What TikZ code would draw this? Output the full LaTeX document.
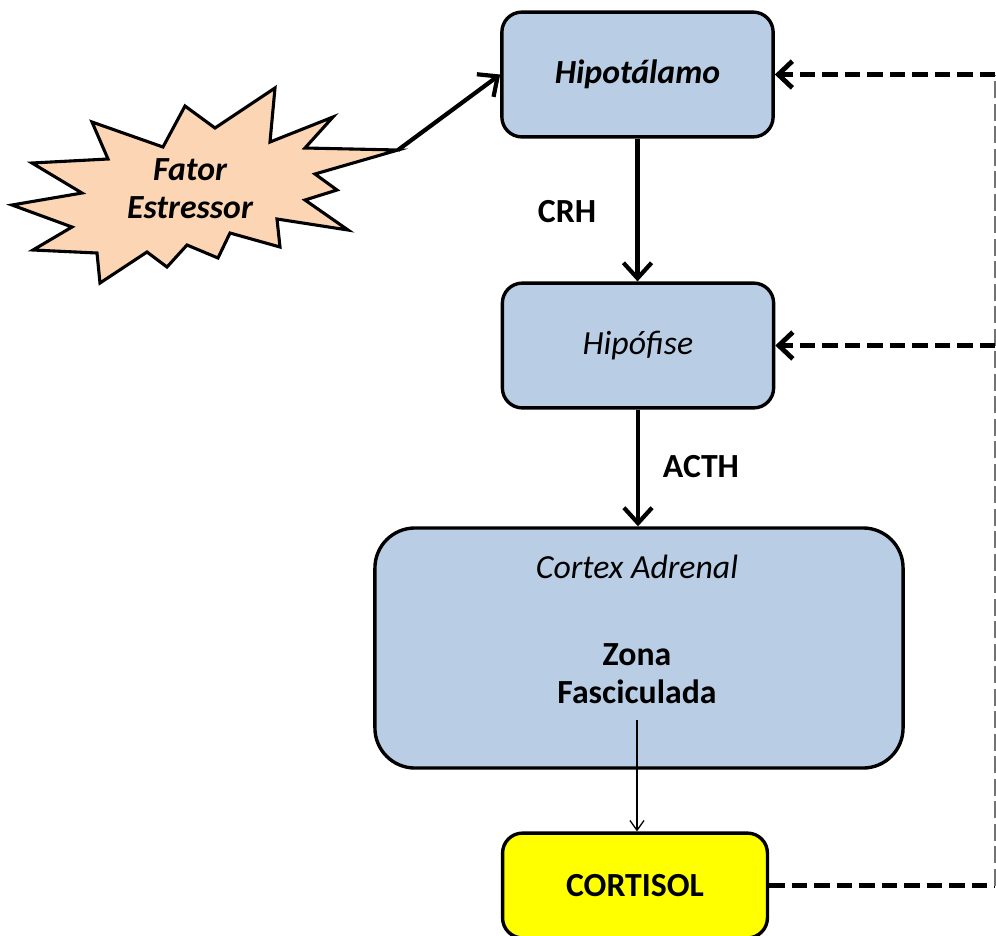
\documentclass[tikz,border=0pt]{standalone}
\usepackage{fontspec}
\setmainfont{Carlito}
\usetikzlibrary{arrows.meta}
\definecolor{glandblue}{HTML}{B9CDE5}
\definecolor{burstpeach}{HTML}{FCD5B5}
\definecolor{cortisolyellow}{HTML}{FFFF00}
\def\bigfont{\fontsize{24}{27}\selectfont}
\tikzset{
	gland/.style={draw, line width=2.4pt, fill=glandblue, rounded corners=0.5cm, minimum width=6.78cm, minimum height=3.12cm, font=\bigfont},
	hormone/.style={line width=3pt, -{Straight Barb[length=11pt,width=20pt]}},
	feedback/.style={line width=3.4pt, dash pattern=on 11pt off 5pt, -{Straight Barb[length=10pt,width=19pt]}},
	feedline/.style={line width=1.2pt, color=black!55, dash pattern=on 12pt off 4pt},
	hormonetext/.style={font=\bigfont\bfseries}
}

\begin{document}
\begin{tikzpicture}[x=0.025cm, y=-0.025cm]
			%%%%% START %%%%%
			\useasboundingbox (0,0) rectangle (996,936);
			
			\draw[line width=2.2pt, fill=burstpeach, line join=miter] (12,205) -- (82,193) -- (32,163) -- (108,159) -- (92,122) -- (163,147) -- (185,106) -- (215,128) -- (275,88) -- (270,142) -- (333,117) -- (305,148) -- (398,150) -- (315,174) -- (337,190) -- (305,200) -- (348,230) -- (277,219) -- (280,247) -- (230,233) -- (218,258) -- (187,245) -- (167,267) -- (147,252) -- (100,283) -- (97,253) -- (33,250) -- (72,227) -- cycle;
			\coordinate (stressTip) at (398,150);
			\node[align=center, font=\bigfont\bfseries\itshape] (fator) at (190,189) {Fator\\Estressor};
			
			\node[gland] (hipotalamo) at (637.5,74.5) {\bfseries\itshape Hipotálamo};
			\node[gland] (hipofise) at (638,345.5) {\itshape Hipófise};
			\node[gland, minimum width=13.2cm, minimum height=6cm, rounded corners=1cm] (cortex) at (639,648) {};
			\node[font=\bigfont\itshape] (cortexTitle) at (637,567) {Cortex Adrenal};
			\node[align=center, font=\bigfont\bfseries] (zona) at (637,674) {Zona\\Fasciculada};
			\node[gland, fill=cortisolyellow, minimum width=6.62cm, minimum height=2.62cm] (cortisol) at (635,885.5) {\bfseries CORTISOL};
			
			\draw[hormone] (stressTip) -- (hipotalamo.west);
			\draw[hormone] (hipotalamo.south) -- (hipotalamo.south |- hipofise.north);
			\draw[hormone] (hipofise.south) -- (hipofise.south |- cortex.north);
			\node[hormonetext] (crh) at (567,212) {CRH};
			\node[hormonetext] (acth) at (701,467) {ACTH};
			
			\coordinate (zonaOut) at (637,720);
			\draw[line width=0.9pt, -{Straight Barb[length=7pt,width=10pt]}] (zonaOut) -- (zonaOut |- cortisol.north);
			
			\coordinate (fbLow) at (995,885.5);
			\coordinate (fbHigh) at (hipotalamo.east -| fbLow);
			\coordinate (fbMid) at (hipofise.east -| fbLow);
			\draw[feedback, -] (cortisol.east) -- (fbLow);
			\draw[feedline] (fbLow) -- (fbHigh);
			\draw[feedback] (fbHigh) -- (hipotalamo.east);
			\draw[feedback] (fbMid) -- (hipofise.east);
			
			%%%%% END %%%%%
\end{tikzpicture}
\end{document}
